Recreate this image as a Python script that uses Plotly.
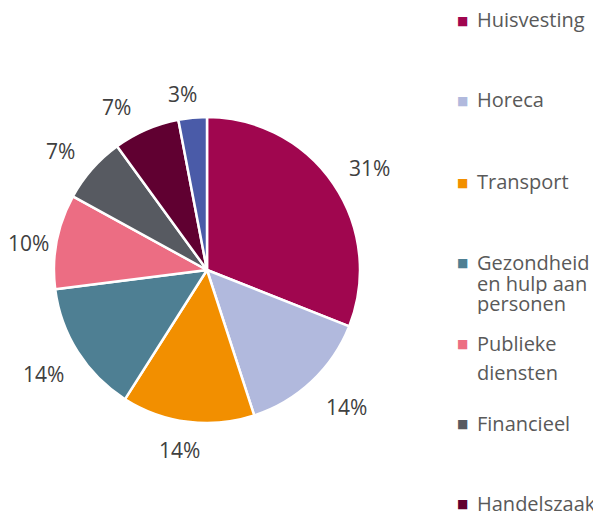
import math
import plotly.graph_objects as go

labels = ["Huisvesting", "Horeca", "Transport", "Gezondheid en hulp aan personen",
          "Publieke diensten", "Financieel", "Handelszaak", "Andere"]
values = [31, 14, 14, 14, 10, 7, 7, 3]
colors = ["#A0064F", "#B1B9DD", "#F28F00", "#4E7F93", "#EC6D83", "#575A61", "#600031", "#4A5BA8"]

# legend text as it wraps in the original (the last category falls off the canvas)
legend_lines = [["Huisvesting"], ["Horeca"], ["Transport"],
                ["Gezondheid", "en hulp aan", "personen"],
                ["Publieke", "diensten"], ["Financieel"], ["Handelszaak"]]

W, H = 601, 517
CX, CY, R = 199, 262, 153          # pie centre / radius in px
fig = go.Figure(go.Pie(
    labels=labels,
    values=values,
    sort=False,
    direction="clockwise",
    rotation=0,
    marker=dict(colors=colors, line=dict(color="white", width=2.5)),
    textinfo="none",
    domain=dict(x=[(CX - R) / W, (CX + R) / W], y=[1 - (CY + R) / H, 1 - (CY - R) / H]),
    showlegend=False,
    hoverinfo="label+value",
))

# percentage labels just outside each slice end; small per-label nudges (px)
# mimic the best-fit placement of the original data labels
nudge = [(2, 0), (7, 5), (-3, 0), (0, 7), (12, 7), (-6, 1), (-16, 4), (-7, 5)]
total = sum(values)
cum = 0
for v, (dx, dy) in zip(values, nudge):
    theta = 2 * math.pi * (cum + v / 2) / total
    cum += v
    txt = f"{v}%"
    w, h = 21 * (0.57 * len(str(v)) + 0.83), 17
    s, c = math.sin(theta), math.cos(theta)
    d = R + 20
    px = CX + d * s + (w / 2) * s + dx
    py = CY - d * c - (h / 2) * c + dy
    fig.add_annotation(
        x=px / W, y=1 - py / H, xref="paper", yref="paper",
        xanchor="center", yanchor="middle", showarrow=False, text=txt,
        font=dict(size=21, color="#404040", family="Open Sans"),
    )

# legend
row_y = [[12], [92], [174], [254, 275, 295], [335, 364], [415], [495]]
for lines, col, ys in zip(legend_lines, colors, row_y):
    fig.add_annotation(
        x=454.5 / W, y=1 - (ys[0] + 1) / H, xref="paper", yref="paper",
        xanchor="center", yanchor="middle", showarrow=False, text="■",
        font=dict(size=12, color=col, family="DejaVu Sans"),
    )
    for line, yy in zip(lines, ys):
        fig.add_annotation(
            x=467 / W, y=1 - yy / H, xref="paper", yref="paper",
            xanchor="left", yanchor="middle", showarrow=False, text=line,
            height=22 if len(lines) == 3 else None,
            font=dict(size=20, color="#595959", family="Open Sans"),
        )

fig.update_layout(
    width=W, height=H,
    margin=dict(l=0, r=0, t=0, b=0),
    paper_bgcolor="white",
    plot_bgcolor="white",
    font_family="Open Sans",
)

fig.write_html("out.html")
